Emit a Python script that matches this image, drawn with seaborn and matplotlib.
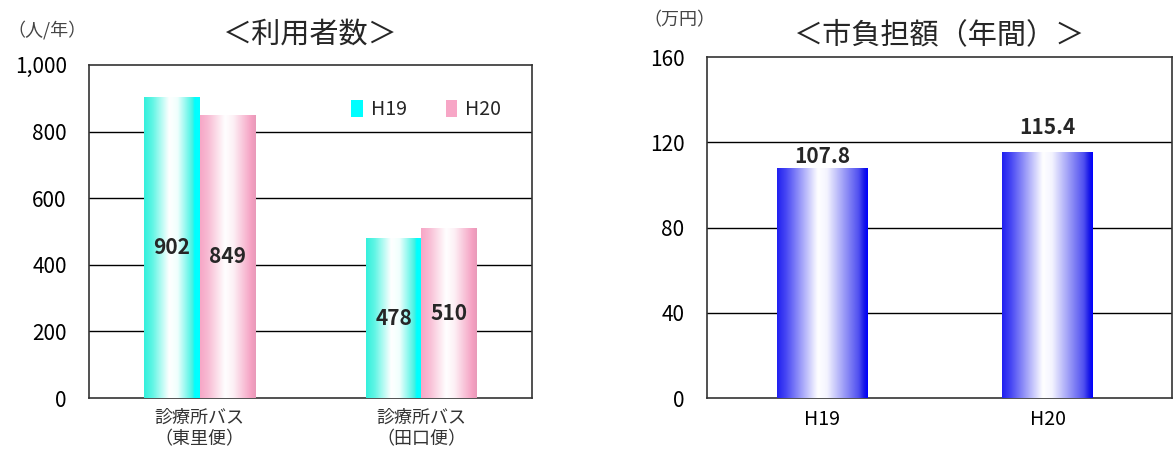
import numpy as np
import pandas as pd
import matplotlib.pyplot as plt
import seaborn as sns
from matplotlib.colors import LinearSegmentedColormap
from matplotlib.patches import Patch

# Data
routes = ['診療所バス\n（東里便）', '診療所バス\n（田口便）']
years = ['H19', 'H20']
users_h19 = [902, 478]
users_h20 = [849, 510]
cost_years = ['H19', 'H20']
cost_values = [107.8, 115.4]

sns.set_style('white')
plt.rcParams['font.family'] = ['Noto Sans CJK JP', 'DejaVu Sans']

users = pd.DataFrame({
    'route': routes * 2,
    'year': ['H19'] * 2 + ['H20'] * 2,
    'value': users_h19 + users_h20,
})
cost = pd.DataFrame({'year': cost_years, 'value': cost_values})

cyan_cmap = LinearSegmentedColormap.from_list(
    'cy', [(0, '#33f0dc'), (0.15, '#5ff5e4'), (0.45, '#ffffff'), (0.6, '#f0fffd'),
           (0.88, '#3cf2e2'), (0.9, '#00ffff'), (1, '#00ffff')])
pink_cmap = LinearSegmentedColormap.from_list(
    'pk', [(0, '#f7a6c6'), (0.15, '#f8bcd4'), (0.45, '#ffffff'), (0.6, '#fdf0f5'),
           (0.92, '#f5a0c2'), (1, '#e89ab8')])
blue_cmap = LinearSegmentedColormap.from_list(
    'bl', [(0, '#2020f0'), (0.1, '#4848f4'), (0.45, '#ffffff'), (0.55, '#f4f4ff'),
           (0.9, '#5050f0'), (0.96, '#1818e8'), (1, '#0000ff')])


def gradient_bars(ax, cmaps):
    grad = np.linspace(0, 1, 256).reshape(1, -1)
    xlim, ylim = ax.get_xlim(), ax.get_ylim()
    for patch, cmap in zip(ax.patches, cmaps):
        x, y = patch.get_x(), patch.get_y()
        w, h = patch.get_width(), patch.get_height()
        if h == 0:
            continue
        ax.imshow(grad, cmap=cmap, extent=(x, x + w, y, y + h),
                  aspect='auto', zorder=3, interpolation='bicubic')
        patch.set_visible(False)
    ax.set_xlim(xlim)
    ax.set_ylim(ylim)


def style_axes(ax):
    for s in ax.spines.values():
        s.set_color('#333333')
        s.set_linewidth(1.2)
    ax.tick_params(axis='both', length=0, labelsize=15, colors='black')
    ax.set_xlabel('')
    ax.set_ylabel('')
    ax.set_xticks([0.5], minor=True)
    ax.tick_params(axis='x', which='minor', direction='in', length=6, width=1, color='#333333')


fig = plt.figure(figsize=(11.74, 4.57), dpi=100)

# Left chart: users
ax1 = fig.add_axes([0.0758, 0.129, 0.3774, 0.729])
sns.barplot(data=users, x='route', y='value', hue='year', ax=ax1,
            palette=['#00ffff', '#f7a6c6'], width=0.5, legend=False)
ax1.set_ylim(0, 1000)
ax1.set_xlim(-0.5, 1.5)
ax1.set_yticks([0, 200, 400, 600, 800, 1000])
ax1.set_yticklabels(['0', '200', '400', '600', '800', '1,000'])
for yv in [200, 400, 600, 800]:
    ax1.axhline(yv, color='black', lw=1, zorder=1)
style_axes(ax1)
ax1.tick_params(axis='x', labelsize=13, pad=8, colors='#333333')
ax1.tick_params(axis='y', pad=16)
for c in ax1.containers:
    ax1.bar_label(c, label_type='center', fontsize=15, fontweight='bold', zorder=5)
gradient_bars(ax1, [cyan_cmap, cyan_cmap, pink_cmap, pink_cmap])
for t in ax1.texts:
    t.set_zorder(6)
handles = [Patch(facecolor='#00ffff', edgecolor='none'),
           Patch(facecolor='#f7a6c6', edgecolor='none')]
ax1.legend(handles, years, ncol=2, frameon=False, loc='upper right',
           bbox_to_anchor=(0.97, 0.95), fontsize=14, handlelength=0.6,
           handleheight=1.0, columnspacing=2.0, handletextpad=0.4)
ax1.set_title('＜利用者数＞', fontsize=21, pad=16)
fig.text(0.006, 0.935, '（人/年）', fontsize=13, color='#444444', va='center')

# Right chart: city cost (hue per year so each bar gets its own container)
ax2 = fig.add_axes([0.602, 0.129, 0.396, 0.746])
sns.barplot(data=cost, x='year', y='value', hue='year', ax=ax2,
            palette=['#2020f0', '#2020f0'], width=0.4, dodge=False, legend=False)
ax2.set_ylim(0, 160)
ax2.set_xlim(-0.51, 1.55)
ax2.set_yticks([0, 40, 80, 120, 160])
for yv in [40, 80, 120]:
    ax2.axhline(yv, color='black', lw=1, zorder=1)
style_axes(ax2)
ax2.tick_params(axis='x', labelsize=14, pad=8)
ax2.tick_params(axis='y', pad=16)
for c, pad in zip(ax2.containers, [1, 10]):
    ax2.bar_label(c, fmt='%.1f', fontsize=15, fontweight='bold', padding=pad)
gradient_bars(ax2, [blue_cmap, blue_cmap])
for t in ax2.texts:
    t.set_zorder(6)
ax2.set_title('＜市負担額（年間）＞', fontsize=21, pad=10)
fig.text(0.548, 0.955, '（万円）', fontsize=13, color='#444444', va='center')

fig.savefig('out.png', dpi=100)
